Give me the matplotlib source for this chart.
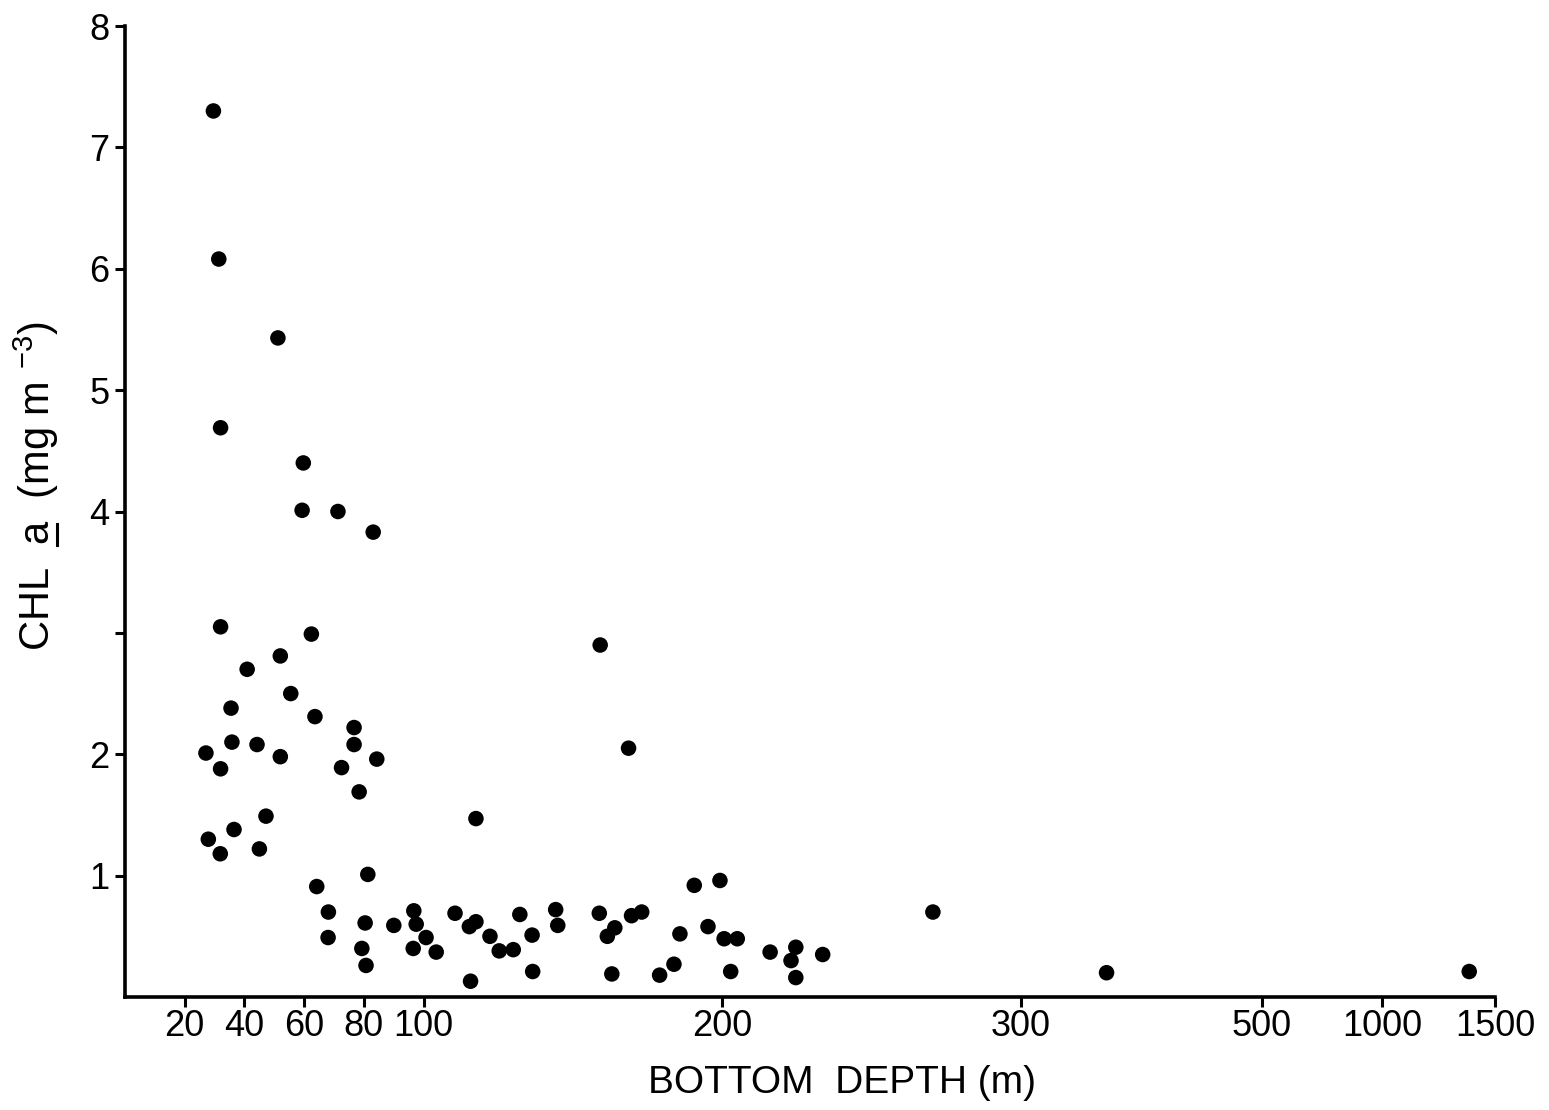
import numpy as np
import matplotlib
matplotlib.use("Agg")
import matplotlib.pyplot as plt
from matplotlib.lines import Line2D

plt.rcParams['font.family'] = ['Liberation Sans', 'DejaVu Sans']
plt.rcParams['mathtext.fontset'] = 'custom'
plt.rcParams['mathtext.rm'] = 'Liberation Sans'
plt.rcParams['mathtext.it'] = 'Liberation Sans'

# Bottom depth (m) and chlorophyll a (mg m-3)
depth = [29.6, 31.4, 51.2, 32.0, 59.7, 59.3, 71.3, 83.1, 32.0, 62.4,
         159.1, 40.9, 52.0, 55.5, 35.5, 63.6, 76.7, 76.7, 35.8, 44.2,
         27.1, 52.0, 84.3, 32.0, 72.5, 78.4, 168.6, 117.5, 47.2, 36.5,
         27.9, 45.0, 31.9, 81.3, 64.2, 68.1, 68.0, 80.4, 90.0, 96.7,
         97.5, 100.8, 96.5, 104.2, 79.3, 80.7, 110.5, 115.3, 117.5, 115.7,
         122.2, 125.3, 130.0, 132.2, 136.3, 136.5, 144.2, 144.9, 158.8, 161.5,
         164.0, 163.0, 169.6, 173.0, 179.0, 183.8, 185.8, 190.6, 199.2, 195.2,
         200.6, 205.0, 202.8, 216.0, 224.6, 223.0, 224.6, 233.6, 270.5, 371.0,
         1386.0]
chl = [7.30, 6.08, 5.43, 4.69, 4.40, 4.01, 4.00, 3.83, 3.05, 2.99,
       2.90, 2.70, 2.81, 2.50, 2.38, 2.31, 2.22, 2.08, 2.10, 2.08,
       2.01, 1.98, 1.96, 1.88, 1.89, 1.69, 2.05, 1.47, 1.49, 1.38,
       1.30, 1.22, 1.18, 1.01, 0.91, 0.70, 0.49, 0.61, 0.59, 0.71,
       0.60, 0.49, 0.40, 0.37, 0.40, 0.26, 0.69, 0.58, 0.62, 0.13,
       0.50, 0.38, 0.39, 0.68, 0.51, 0.21, 0.72, 0.59, 0.69, 0.50,
       0.57, 0.19, 0.67, 0.70, 0.18, 0.27, 0.52, 0.92, 0.96, 0.58,
       0.48, 0.48, 0.21, 0.37, 0.41, 0.30, 0.16, 0.35, 0.70, 0.20,
       0.21]

x_ticks = [20, 40, 60, 80, 100, 200, 300, 500, 1000, 1500]
x_tick_labels = ['20', '40', '60', '80', '100', '200', '300', '500', '1000', '1500']
y_ticks = [1, 2, 3, 4, 5, 6, 7, 8]
y_tick_labels = ['1', '2', '', '4', '5', '6', '7', '8']

# broken (piecewise linear) depth axis as drawn in the original
scale_vals = [0, 300, 500, 1000, 1500]
scale_pos = [0.0, 896.0, 1137.0, 1257.0, 1370.0]

def fwd(x):
    return np.interp(x, scale_vals, scale_pos)

def inv(p):
    return np.interp(p, scale_pos, scale_vals)

W, H = 1549, 1110
fig = plt.figure(figsize=(W/100, H/100), dpi=100)
ax = fig.add_axes([125/W, 1-997/H, 1370/W, (997-26)/H])
ax.set_xscale('function', functions=(fwd, inv))

ax.scatter(depth, chl, s=125, color='black', edgecolors='none', zorder=3, clip_on=False)

ax.set_xlim(0, 1500)
ax.set_ylim(0, 8)
ax.set_xticks(x_ticks)
ax.set_xticklabels(x_tick_labels)
ax.set_yticks(y_ticks)
ax.set_yticklabels(y_tick_labels)
ax.minorticks_off()

for s in ['top', 'right']:
    ax.spines[s].set_visible(False)
for s in ['left', 'bottom']:
    ax.spines[s].set_linewidth(2.6)
    ax.spines[s].set_color('black')

ax.tick_params(axis='both', direction='out', length=7, width=2.2, colors='black',
               labelsize=26)
ax.tick_params(axis='x', pad=2)
ax.tick_params(axis='y', pad=4)

ax.set_xlabel('BOTTOM  DEPTH (m)', fontsize=28)
ax.xaxis.set_label_coords(0.523, -0.070)

lab_fs = 30
lx, ly = 36/W, 1-486/H
label = r'CHL  a  (mg m $^{-3}$)'
t = fig.text(lx, ly, label, rotation=90, ha='center', va='center', fontsize=lab_fs)

# underline the "a" (as in the original label)
fig.canvas.draw()
r = fig.canvas.get_renderer()
bb = t.get_window_extent(r)
tmp1 = fig.text(0, 0, 'CHL  ', fontsize=lab_fs)
tmp2 = fig.text(0, 0, 'CHL  a', fontsize=lab_fs)
w1 = tmp1.get_window_extent(r).width
w2 = tmp2.get_window_extent(r).width
tmp1.remove()
tmp2.remove()
y0 = bb.y0 + w1 + 1
y1 = bb.y0 + w2 - 1
xline = bb.x1 - 4
fig.add_artist(Line2D([xline/W, xline/W], [y0/H, y1/H], color='black', lw=2.2,
                      transform=fig.transFigure))

fig.savefig('out.png', dpi=100, facecolor='white')
